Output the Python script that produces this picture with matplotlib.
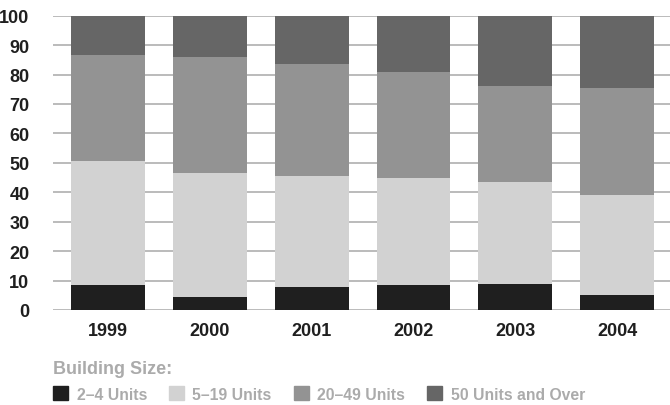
import matplotlib
matplotlib.use('Agg')
import matplotlib.pyplot as plt
import matplotlib.patches as mpatches
import numpy as np

plt.rcParams['font.family'] = ['Liberation Sans', 'DejaVu Sans']
plt.rcParams['font.weight'] = 'bold'

years = ['1999', '2000', '2001', '2002', '2003', '2004']
# cumulative tops (percent)
top_2_4 = [8.4, 4.3, 7.7, 8.4, 8.7, 5.0]
top_5_19 = [50.5, 46.5, 45.5, 44.8, 43.4, 39.0]
top_20_49 = [86.6, 85.9, 83.6, 80.8, 76.1, 75.4]

units_2_4 = np.array(top_2_4)
units_5_19 = np.array(top_5_19) - np.array(top_2_4)
units_20_49 = np.array(top_20_49) - np.array(top_5_19)
units_50 = 100 - np.array(top_20_49)

labels = ['2\u20134 Units', '5\u201319 Units', '20\u201349 Units', '50 Units and Over']
colors = ['#1f1f1f', '#d2d2d2', '#939393', '#666666']

fig = plt.figure(figsize=(6.7, 4.06), dpi=100)
ax = fig.add_axes([53 / 670, 1 - 311 / 406, 1 - 53 / 670, (311 - 16.7) / 406])

x = np.arange(len(years))
w = 0.725
bottom = np.zeros(len(years))
for vals, c in zip([units_2_4, units_5_19, units_20_49, units_50], colors):
    ax.bar(x, vals, w, bottom=bottom, color=c, zorder=3)
    bottom += vals

ax.set_xlim(-0.54, 5.52)
ax.set_ylim(0, 100)
ax.set_yticks(range(0, 101, 10))
ax.grid(axis='y', color='#b5b5b5', linewidth=1.3, zorder=0)
ax.set_axisbelow(True)
for s in ax.spines.values():
    s.set_visible(False)
ax.tick_params(length=0, labelsize=13, colors='#1f1f1f')
ax.tick_params(axis='y', pad=17)
ax.tick_params(axis='x', pad=9)
ax.set_xticks(x)
ax.set_xticklabels(years)

fig.text(53 / 670, 1 - 370 / 406, 'Building Size:', fontsize=13, color='#ababab',
         fontweight='bold', va='center', ha='left')

handles = [mpatches.Patch(color=c, label=l) for c, l in zip(colors, labels)]
leg = fig.legend(handles=handles, loc='center left', ncol=4, frameon=False,
                 bbox_to_anchor=(53 / 670, 1 - 395 / 406),
                 fontsize=11.3, handlelength=0.95, handleheight=0.95,
                 handletextpad=0.55, columnspacing=1.4, borderaxespad=0,
                 borderpad=0)
for t in leg.get_texts():
    t.set_color('#ababab')

fig.savefig('out.png', dpi=100)
